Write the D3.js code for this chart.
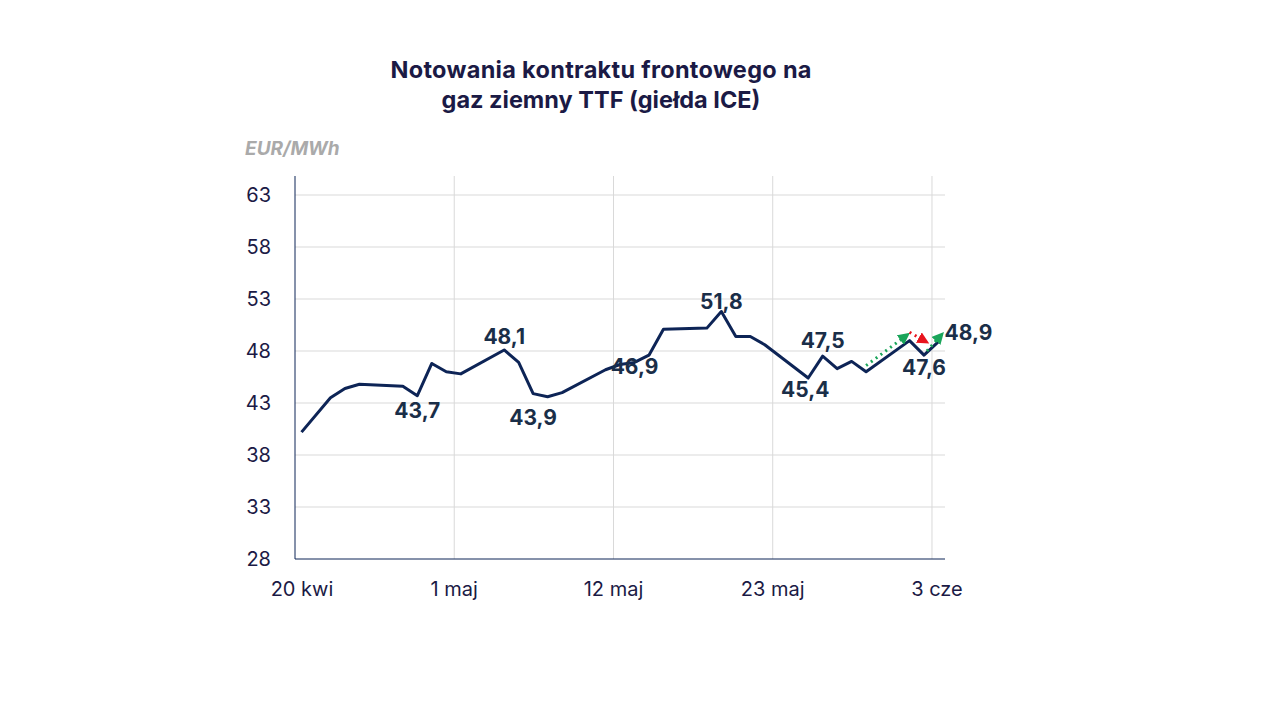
<!DOCTYPE html><html><head><meta charset="utf-8">
<script src="https://cdn.jsdelivr.net/npm/d3@7"></script>
<style>body{margin:0;background:#fff}text{font-family:Inter,"Noto Sans",sans-serif}</style></head><body>
<svg id="c" width="1280" height="720"></svg>
<script>
const dayOffsets=[0,2,3,4,7,8,9,10,11,14,15,16,17,18,21,22,23,24,25,28,29,30,31,32,35,36,37,38,39,42,43,44];
const values=[40.2,43.5,44.4,44.8,44.6,43.7,46.8,46.0,45.8,48.1,46.9,43.9,43.6,44.0,46.2,46.7,46.9,47.6,50.1,50.2,51.8,49.4,49.4,48.6,45.4,47.5,46.3,47.0,46.0,49.0,47.6,48.9];
const labelIdx=[5,9,11,16,20,25,24,30,31];
const labelPos=[[0,22],[0,-6],[0,31],[0,12],[0,-2],[0,-8],[-3,19],[0,20],[30,-2]];
const xTickDays=[0,11,22,33,44];
const xTickLabels=["20 kwi","1 maj","12 maj","23 maj","3 cze"];
const yTicks=[28,33,38,43,48,53,58,63];
const fmt=v=>v.toFixed(1).replace(".",",");
const svg=d3.select("#c");
const x=d3.scaleLinear().domain([0,44.9]).range([295,945]);
const y=d3.scaleLinear().domain([28,63]).range([559,195]);
const X=d=>x(d+0.45);
svg.append("text").attr("x",601).attr("y",78).attr("text-anchor","middle").attr("font-size",23.5).attr("font-weight",700).attr("fill","#1b1a45").attr("textLength",421).text("Notowania kontraktu frontowego na");
svg.append("text").attr("x",601).attr("y",108).attr("text-anchor","middle").attr("font-size",23.5).attr("font-weight",700).attr("fill","#1b1a45").text("gaz ziemny TTF (giełda ICE)");
svg.append("text").attr("x",245).attr("y",155).attr("font-size",19).attr("font-weight",700).attr("font-style","italic").attr("fill","#aaa").text("EUR/MWh");
const g=svg.append("g");
yTicks.forEach(t=>{ if(t>28) g.append("line").attr("x1",295).attr("x2",945).attr("y1",y(t)).attr("y2",y(t)).attr("stroke","#d9d9d9");
 g.append("text").attr("x",271).attr("y",y(t)+7).attr("text-anchor","end").attr("font-size",20).attr("fill","#1b1a45").text(t);});
xTickDays.forEach((d,i)=>{ if(i>0) g.append("line").attr("x1",x(d)).attr("x2",x(d)).attr("y1",176).attr("y2",559).attr("stroke","#d9d9d9");
 g.append("text").attr("x",x(d)+(i==0?7:i==4?5:0)).attr("y",596).attr("text-anchor","middle").attr("font-size",20).attr("fill","#1b1a45").text(xTickLabels[i]);});
g.append("line").attr("x1",295).attr("x2",295).attr("y1",176).attr("y2",559).attr("stroke","#0d2456");
g.append("line").attr("x1",295).attr("x2",945).attr("y1",559).attr("y2",559).attr("stroke","#0d2456");
const pts=dayOffsets.map((d,i)=>[X(d),y(values[i])]);
g.append("path").attr("d",d3.line()(pts)).attr("fill","none").attr("stroke","#0d2456").attr("stroke-width",3).attr("stroke-linejoin","round");
labelIdx.forEach((k,j)=>g.append("text").attr("x",pts[k][0]+labelPos[j][0]).attr("y",pts[k][1]+labelPos[j][1]).attr("text-anchor","middle").attr("font-size",21).attr("font-weight",700).attr("fill","#1a2e48").text(fmt(values[k])));
const defs=svg.append("defs");
[["ag","#1aa55a"],["ar","#e8141e"]].forEach(([id,c])=>defs.append("marker").attr("id",id).attr("viewBox","0 0 10 10").attr("refX",5).attr("refY",5).attr("markerWidth",4).attr("markerHeight",4).attr("orient","auto").append("path").attr("d","M0,0L10,5L0,10z").attr("fill",c));
function arrow(d1,v1,d2,v2,c,m){g.append("line").attr("x1",X(d1)).attr("y1",y(v1)).attr("x2",X(d2)).attr("y2",y(v2)).attr("stroke",c).attr("stroke-width",3).attr("stroke-dasharray","2,4").attr("marker-end","url(#"+m+")");}
arrow(39,46.6,41.7,49.4,"#1aa55a","ag");
arrow(42,49.8,43.0,49.0,"#e8141e","ar");
arrow(43.2,48.0,44.1,49.4,"#1aa55a","ag");
</script></body></html>
